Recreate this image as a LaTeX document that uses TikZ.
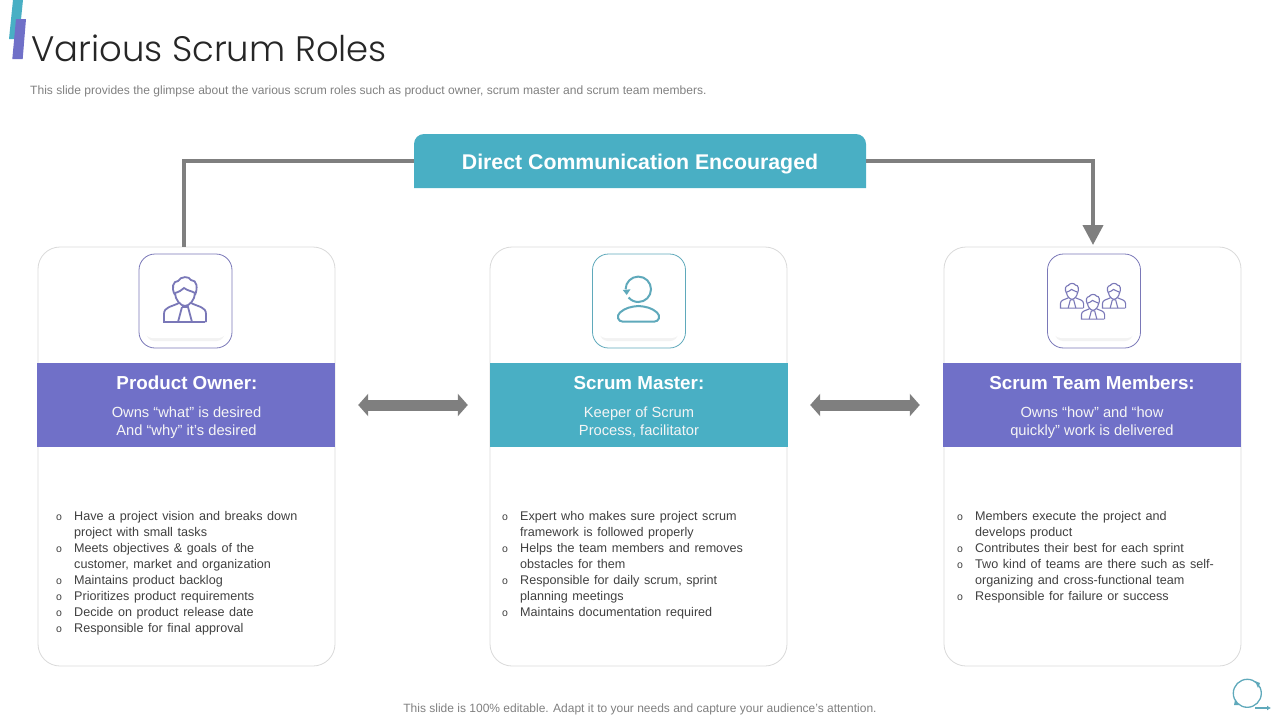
\documentclass[tikz,border=0pt]{standalone}
\usepackage{fontspec}
\usepackage{xcolor}
\setmainfont{Liberation Sans}
\newfontfamily\titlefont{Poppins Light}
\newfontfamily\listfont[WordSpace=1.32]{Liberation Sans}
\usetikzlibrary{arrows.meta}
\definecolor{scrumteal}{HTML}{49AFC4}
\definecolor{scrumpurple}{HTML}{7070C8}
\definecolor{iconpurple}{HTML}{7A78B8}
\definecolor{iconteal}{HTML}{5FA9BB}
\definecolor{linkgray}{HTML}{7F7F7F}
\definecolor{bodygray}{HTML}{404040}
\newcommand{\bul}{\makebox[19pt][l]{\hspace{1pt}\fontsize{10.5}{16}\selectfont o}}
\newcommand{\cont}{\hspace*{19pt}}
\tikzset{
  rolecard/.style={draw=gray!30, line width=0.8pt, rounded corners=22pt, minimum width=297pt, minimum height=419pt, inner sep=0pt},
  roleband/.style={minimum width=298pt, minimum height=84pt, inner sep=0pt},
  iconbox/.style={draw=#1, fill=white, line width=0.8pt, rounded corners=16pt, minimum width=93pt, minimum height=94pt, inner sep=0pt},
  roletitle/.style={text=white, font=\fontsize{18.8}{22}\selectfont\bfseries},
  rolesub/.style={text=white!92!gray, align=center, font=\fontsize{14.7}{18}\selectfont},
  rolelist/.style={anchor=north west, align=left, text=bodygray, inner sep=0pt, font=\listfont\fontsize{12.6}{16}\selectfont},
  linkline/.style={draw=linkgray, line width=4pt},
  linkboth/.style={draw=linkgray, line width=11pt, {Triangle[length=10pt,width=22pt]}-{Triangle[length=10pt,width=22pt]}},
  linkhead/.style={draw=linkgray, line width=4pt, -{Triangle[length=20pt,width=20pt]}},
  suitman/.pic={
    % cabelo e rosto
    \draw (-10,-5) .. controls (-14,-12) and (-12,-19) .. (-7,-19) .. controls (-4,-24) and (4,-24) .. (6,-20) .. controls (12,-20) and (13,-12) .. (10,-5);
    \draw (-10,-7) .. controls (-6,-8) and (-3,-10) .. (-1,-12) .. controls (3,-9) and (7,-9) .. (10,-7);
    \draw (-10,-7) .. controls (-10,0) and (-4,6) .. (0,6) .. controls (4,6) and (10,0) .. (10,-7);
    % ombros
    \draw (20,22) -- (-21,22) -- (-21,14) .. controls (-21,7) and (-14,7) .. (-6,3);
    \draw (6,3) .. controls (14,7) and (21,7) .. (21,14) -- (21,22);
    % gravata
    \draw (-3,7) -- (3,7) -- (7,22);
    \draw (-3,7) -- (-7,22);
  }
}

\begin{document}
\begin{tikzpicture}[x=1pt, y=-1pt]
\useasboundingbox (0,0) rectangle (1280,720);

% Marca do titulo
\fill[scrumteal] (13,0) -- (23,0) -- (19,39) -- (9,39) -- cycle;
\fill[scrumpurple] (16,19) -- (26,19) -- (22.7,59) -- (12.3,59) -- cycle;

% Titulo e subtitulo
\node[anchor=west, inner sep=0pt, text=black!85] (title) at (31,48) {\titlefont\fontsize{35.4}{40}\selectfont Various Scrum Roles};
\node[anchor=west, inner sep=0pt, text=gray] (subtitle) at (30,91) {\fontsize{12.05}{14}\selectfont This slide provides the glimpse about the various scrum roles such as product owner, scrum master and scrum team members.};

% Cartoes
\node[rolecard] (ownercard) at (186.5,456.5) {};
\node[rolecard] (mastercard) at (638.5,456.5) {};
\node[rolecard] (teamcard) at (1092.5,456.5) {};

% Faixas coloridas
\node[roleband, fill=scrumpurple] (ownerband) at (186,405) {};
\node[roleband, fill=scrumteal] (masterband) at (639,405) {};
\node[roleband, fill=scrumpurple] (teamband) at (1092,405) {};

% Textos das faixas
\node[roletitle] (ownertitle) at (187,383) {Product Owner:};
\node[rolesub] (ownersub) at (186.5,422.5) {Owns “what” is desired\\And “why” it’s desired};
\node[roletitle] (mastertitle) at (639,383) {Scrum Master:};
\node[rolesub] (mastersub) at (639,422.5) {Keeper of Scrum\\Process, facilitator};
\node[roletitle] (teamtitle) at (1092,383) {Scrum Team Members:};
\node[rolesub] (teamsub) at (1092,422.5) {Owns “how” and “how\\quickly” work is delivered};

% Caixas dos icones
\foreach \boxname/\xc/\boxcolor in {ownericon/185.5/iconpurple, mastericon/639/iconteal, teamicon/1094/iconpurple} {
  \node[iconbox=\boxcolor] (\boxname) at (\xc,301) {};
  \fill[black!5, rounded corners=8pt] (\xc-39,300) rectangle (\xc+39,341);
  \fill[white, rounded corners=8pt] (\xc-41,296) rectangle (\xc+41,338);
}

% Icone do dono do produto
\pic[draw=iconpurple, line width=1.8pt] at (185,300) {suitman};

% Icone do scrum master
\draw[iconteal, line width=2pt] (638.3,289.3) ++(-12.7,0) arc[start angle=180, end angle=500, radius=12.7];
\fill[iconteal] (622.8,290) -- (630.5,289.3) -- (626.7,295) -- cycle;
\draw[iconteal, line width=2pt] (623,321.7) .. controls (618,321.7) and (616,316) .. (620,312.5) .. controls (625,308) and (631,306.5) .. (638.5,306) .. controls (646,306.5) and (652,308) .. (657,312.5) .. controls (661,316) and (659,321.7) .. (654,321.7) -- cycle;

% Icones da equipe
\pic[draw=iconpurple, line width=1.1pt, scale=0.55] at (1072,296) {suitman};
\pic[draw=iconpurple, line width=1.1pt, scale=0.55] at (1114,296) {suitman};
\pic[draw=iconpurple, line width=1.1pt, scale=0.55] at (1093,307) {suitman};

% Listas
\node[rolelist] (ownerlist) at (55,511.5) {\bul Have a project vision and breaks down\\\cont project with small tasks\\\bul Meets objectives \& goals of the\\\cont customer, market and organization\\\bul Maintains product backlog\\\bul Prioritizes product requirements\\\bul Decide on product release date\\\bul Responsible for final approval};
\node[rolelist] (masterlist) at (501,511.5) {\bul Expert who makes sure project scrum\\\cont framework is followed properly\\\bul Helps the team members and removes\\\cont obstacles for them\\\bul Responsible for daily scrum, sprint\\\cont planning meetings\\\bul Maintains documentation required};
\node[rolelist] (teamlist) at (956,511.5) {\bul Members execute the project and\\\cont develops product\\\bul Contributes their best for each sprint\\\bul Two kind of teams are there such as self-\\\cont organizing and cross-functional team\\\bul Responsible for failure or success};

% Caixa de comunicacao
\fill[scrumteal] (414,188) -- (414,144) arc[start angle=180, end angle=270, radius=10] -- (856,134) arc[start angle=270, end angle=360, radius=10] -- (866,188) -- cycle;
\node[minimum width=452pt, minimum height=54pt, inner sep=0pt, text height=16pt, text depth=0pt, text=white, font=\fontsize{21.3}{24}\selectfont\bfseries] (direct) at (640,161) {Direct Communication Encouraged};

% Ligacoes
\coordinate (ownertop) at (184,247);
\coordinate (teamtop) at (1093,245);
\draw[linkline] (direct.west) -| (ownertop);
\draw[linkhead] (direct.east) -| (teamtop);
\draw[linkboth, shorten <=23pt, shorten >=22pt] (ownerband.east) -- (masterband.west);
\draw[linkboth, shorten <=22pt, shorten >=23pt] (masterband.east) -- (teamband.west);

% Rodape
\node[inner sep=0pt, text=gray] (footer) at (640,709) {\fontsize{12}{14}\selectfont This slide is 100\% editable. Adapt it to your needs and capture your audience's attention.};

% Logo
\coordinate (logoarrow) at (1271,708);
\draw[iconteal, line width=1.3pt] (1247.3,693.3) circle[radius=14];
\fill[iconteal] (1255,681) -- (1260,683) -- (1258,688) -- cycle;
\fill[iconteal] (1235,700) -- (1239,705) -- (1234,705) -- cycle;
\draw[iconteal, line width=1.3pt, -{Latex[length=4pt,width=5pt]}] (1255,708) -- (logoarrow);

\end{tikzpicture}
\end{document}
